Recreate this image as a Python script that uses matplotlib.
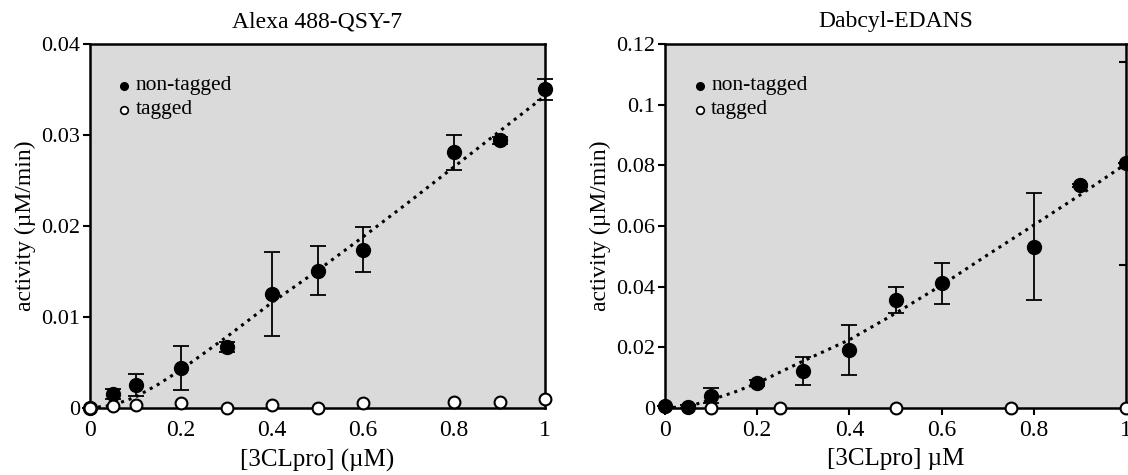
import numpy as np
import matplotlib
matplotlib.use("Agg")
import matplotlib.pyplot as plt
from matplotlib.ticker import FuncFormatter

plt.rcParams['font.family'] = ['Liberation Serif', 'DejaVu Serif']
plt.rcParams['font.size'] = 15

#------------------------------ left: Alexa 488-QSY-7
xl = [0, 0.05, 0.1, 0.2, 0.3, 0.4, 0.5, 0.6, 0.8, 0.9, 1.0]
ntl = [0, 0.00154, 0.0025, 0.0044, 0.0067, 0.0125, 0.0151, 0.0174, 0.0281, 0.0294, 0.035]
ntl_err = [0, 0.0005, 0.0012, 0.0024, 0.0006, 0.0046, 0.0027, 0.0025, 0.0019, 0.0004, 0.0011]
tgl = [0, 0.00026, 0.0003, 0.0005, 0.0, 0.0003, 0.0, 0.0005, 0.00066, 0.00066, 0.001]
tgl_err = [0, 0, 0, 0.0001, 0, 0, 0, 0.0001, 0.0001, 0.0001, 0.0001]
fitl_x = [0, 0.05, 0.1, 0.15, 0.2, 0.3, 0.4, 0.5, 0.6, 0.7, 0.8, 0.9, 1.0]
fitl_y = [0, 0.0003, 0.0012, 0.0026, 0.0042, 0.0078, 0.0116, 0.0151, 0.0188, 0.0226, 0.0265, 0.0304, 0.0343]

#------------------------------ right: Dabcyl-EDANS
xr = [0, 0.05, 0.1, 0.2, 0.3, 0.4, 0.5, 0.6, 0.8, 0.9, 1.0]
ntr = [0.0005, 0.0004, 0.0041, 0.0082, 0.0123, 0.0192, 0.0356, 0.0411, 0.0532, 0.0734, 0.0808]
ntr_err = [0, 0.0005, 0.0026, 0.001, 0.0046, 0.0082, 0.0042, 0.0067, 0.0176, 0.0006, 0]
xr_tg = [0.1, 0.25, 0.5, 0.75, 1.0]
tgr = [0, 0, 0, 0, 0]
fitr_x = [0, 0.05, 0.1, 0.15, 0.2, 0.3, 0.4, 0.5, 0.6, 0.7, 0.8, 0.9, 1.0]
fitr_y = [0, 0.0005, 0.0027, 0.0052, 0.0082, 0.0155, 0.0225, 0.0312, 0.0405, 0.0505, 0.0603, 0.0702, 0.0805]
right_ticks = [0.047, 0.114]  # odd inner ticks on right spine

bg = '#dadada'
fmt = FuncFormatter(lambda v, p: '%g' % round(v, 4))

fig = plt.figure(figsize=(11.28, 4.75), dpi=100)
axL = fig.add_axes([90/1128, 67/475, 455/1128, 364/475])
axR = fig.add_axes([665/1128, 67/475, 461/1128, 364/475])


def panel(ax, x, nt, nte, xt, tg, tge, fx, fy, ymax, ystep, title, xlabel, xticklen):
    ax.set_facecolor(bg)
    ax.plot(fx, fy, color='k', ls=(0, (1, 1.6)), lw=2.2, zorder=2)
    ax.errorbar(x, nt, yerr=nte, fmt='o', color='k', ms=10, ecolor='k',
                elinewidth=1.3, capsize=6, capthick=1.3, zorder=4, clip_on=False)
    ax.errorbar(xt, tg, yerr=tge, fmt='o', mfc='white', mec='k', mew=1.5, ms=8.5,
                ecolor='k', elinewidth=1.3, capsize=4, capthick=1.3, zorder=5, clip_on=False)
    ax.set_xlim(0, 1)
    ax.set_ylim(0, ymax)
    ax.set_xticks(np.arange(0, 1.01, 0.2))
    ax.set_yticks(np.arange(0, ymax + 1e-9, ystep))
    ax.xaxis.set_major_formatter(fmt)
    ax.yaxis.set_major_formatter(fmt)
    ax.tick_params(axis='y', direction='out', length=5, width=1.5, pad=2, labelsize=16)
    ax.tick_params(axis='x', direction='out', length=xticklen, width=1.5,
                   pad=9 - xticklen, labelsize=17)
    for s in ax.spines.values():
        s.set_linewidth(1.8)
    ax.set_title(title, fontsize=17, pad=12)
    ax.set_xlabel(xlabel, fontsize=18, labelpad=5)
    ax.set_ylabel('activity (µM/min)', fontsize=17, labelpad=4)
    # legend drawn as text with small markers
    ax.plot([0.075], [0.885 * ymax], 'o', color='k', ms=5.5)
    ax.plot([0.075], [0.82 * ymax], 'o', mfc='white', mec='k', mew=1.2, ms=5.5)
    ax.text(0.1, 0.885 * ymax, 'non-tagged', va='center', ha='left', fontsize=15.5)
    ax.text(0.1, 0.82 * ymax, 'tagged', va='center', ha='left', fontsize=15.5)


panel(axL, xl, ntl, ntl_err, xl, tgl, tgl_err, fitl_x, fitl_y, 0.04, 0.01,
      'Alexa 488-QSY-7', '[3CLpro] (µM)', 0)
panel(axR, xr, ntr, ntr_err, xr_tg, tgr, [0]*len(tgr), fitr_x, fitr_y, 0.12, 0.02,
      'Dabcyl-EDANS', '[3CLpro] µM', 5)

axR2 = axR.twinx()
axR2.set_ylim(0, 0.12)
axR2.set_yticks(right_ticks)
axR2.tick_params(axis='y', direction='in', length=5, width=1.5, labelright=False)
for s in axR2.spines.values():
    s.set_visible(False)

fig.savefig('out.png', dpi=100)
